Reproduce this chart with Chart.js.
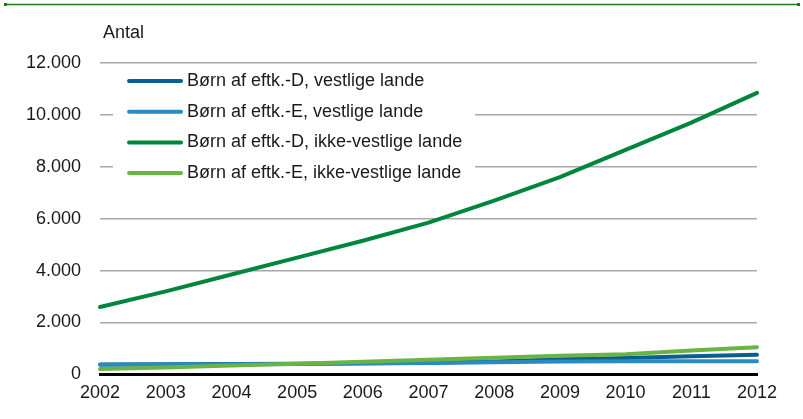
<!DOCTYPE html>
<html>
<head>
<meta charset="utf-8">
<script src="https://cdn.jsdelivr.net/npm/chart.js@4.4.1/dist/chart.umd.min.js"></script>
<style>
  html, body { margin: 0; padding: 0; background: #ffffff; }
  #wrap { position: relative; width: 803px; height: 419px; }
</style>
</head>
<body>
<div id="wrap"><canvas id="c" width="803" height="419"></canvas></div>
<script>
// ---- data ----
const years = ['2002','2003','2004','2005','2006','2007','2008','2009','2010','2011','2012'];
const seriesNames = [
  'Børn af eftk.-D, vestlige lande',
  'Børn af eftk.-E, vestlige lande',
  'Børn af eftk.-D, ikke-vestlige lande',
  'Børn af eftk.-E, ikke-vestlige lande'
];
const dVestlige     = [380, 390, 400, 410, 430, 450, 500, 580, 630, 700, 760];
const eVestlige     = [370, 380, 390, 400, 420, 440, 470, 500, 510, 510, 510];
const dIkkeVestlige = [2600, 3200, 3850, 4500, 5150, 5850, 6700, 7600, 8650, 9700, 10850];
const eIkkeVestlige = [205, 270, 340, 410, 490, 560, 640, 720, 780, 920, 1050];
const yTickValues   = [0, 2000, 4000, 6000, 8000, 10000, 12000];
const yAxisTitle = 'Antal';

const colors = ['#0b5f8e', '#2a8ac2', '#00853f', '#6ab446'];
const FONT = "'Liberation Sans', Arial, sans-serif";

function fmt(v) { return String(v).replace(/\B(?=(\d{3})+(?!\d))/g, '.'); }

const extras = {
  id: 'extras',
  afterDraw(chart) {
    const ctx = chart.ctx;
    const ca = chart.chartArea;
    ctx.save();
    // top rule
    ctx.strokeStyle = '#1f7a1f';
    ctx.fillStyle = '#1f7a1f';
    ctx.lineWidth = 1.5;
    ctx.beginPath(); ctx.moveTo(5, 4.5); ctx.lineTo(799, 4.5); ctx.stroke();
    ctx.fillRect(4, 3, 3, 3); ctx.fillRect(797, 3, 3, 3);
    // axis title
    ctx.fillStyle = '#1a1a1a';
    ctx.font = '18px ' + FONT;
    ctx.textAlign = 'left';
    ctx.textBaseline = 'alphabetic';
    ctx.fillText(yAxisTitle, ca.left + 3, 38);
    // legend
    const lx = ca.left + 13, ly = ca.top + 4;
    ctx.fillStyle = '#ffffff';
    ctx.fillRect(lx, ly, 362, 120);
    chart.data.datasets.forEach((ds, i) => {
      const y = ca.top + 18 + i * 30.7;
      ctx.strokeStyle = ds.borderColor;
      ctx.lineWidth = 4;
      ctx.lineCap = 'round';
      ctx.beginPath(); ctx.moveTo(lx + 16, y); ctx.lineTo(lx + 68, y); ctx.stroke();
      ctx.fillStyle = '#1a1a1a';
      ctx.textBaseline = 'middle';
      ctx.fillText(ds.label, lx + 74, y);
    });
    ctx.restore();
  }
};

const seriesData = [dVestlige, eVestlige, dIkkeVestlige, eIkkeVestlige];

new Chart(document.getElementById('c'), {
  type: 'line',
  data: {
    labels: years,
    datasets: seriesData.map((d, i) => ({
      label: seriesNames[i],
      data: d,
      borderColor: colors[i],
      backgroundColor: colors[i],
      borderWidth: 4,
      pointRadius: 0,
      tension: 0,
      borderCapStyle: 'round',
      borderJoinStyle: 'round',
      order: 4 - i
    }))
  },
  options: {
    responsive: false,
    animation: false,
    devicePixelRatio: 1,
    layout: { padding: { top: 63, right: 46, bottom: 7, left: 7 } },
    plugins: { legend: { display: false }, tooltip: { enabled: false }, title: { display: false } },
    scales: {
      x: {
        grid: { display: false, drawTicks: false },
        border: { display: true, color: '#000000', width: 3 },
        ticks: { color: '#1a1a1a', font: { family: FONT, size: 18 }, padding: 8, maxRotation: 0, autoSkip: false }
      },
      y: {
        min: 0, max: 12000,
        afterBuildTicks(axis) { axis.ticks = yTickValues.map(v => ({ value: v })); },
        grid: { color: '#a9a9a9', lineWidth: 1.5, drawTicks: false },
        border: { display: false },
        ticks: { color: '#1a1a1a', font: { family: FONT, size: 18 }, padding: 19, callback: v => fmt(v) }
      }
    }
  },
  plugins: [extras]
});
</script>
</body>
</html>
